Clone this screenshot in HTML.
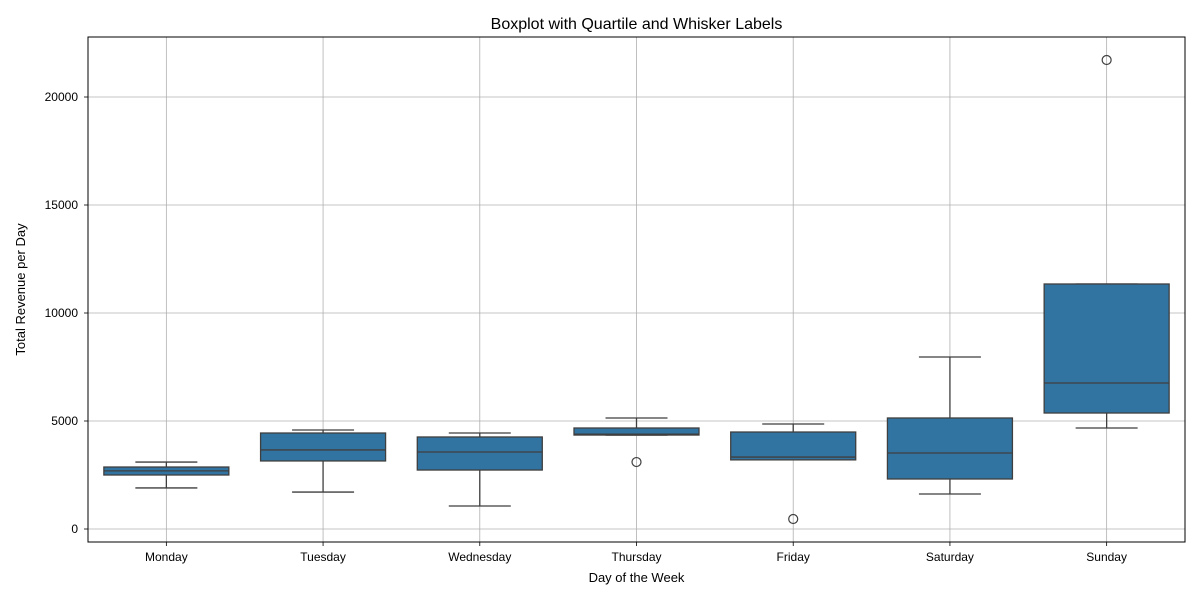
<!DOCTYPE html>
<html><head><meta charset="utf-8">
<style>
body{margin:0;background:#fff;font-family:"Liberation Sans","DejaVu Sans",sans-serif;}
svg text{font-family:"Liberation Sans","DejaVu Sans",sans-serif;}
</style></head>
<body>
<svg id="chart" width="1200" height="600" xmlns="http://www.w3.org/2000/svg"></svg>
<script>
const days = ["Monday","Tuesday","Wednesday","Thursday","Friday","Saturday","Sunday"];
const whiskerLow = [1900,1710,1065,4350,3240,1620,4676];
const q1 = [2500,3150,2730,4350,3200,2315,5370];
const median = [2690,3660,3565,4390,3330,3520,6760];
const q3 = [2870,4444,4260,4676,4490,5139,11343];
const whiskerHigh = [3100,4583,4444,5139,4861,7963,11343];
const outliers = [[],[],[],[3100],[463],[],[21713]];
const yTicks = [0,5000,10000,15000,20000];

const L=88,R=1185,T=37,B=542;
const y0px=529, pxPerUnit=432/20000;
const Y=v=>y0px-v*pxPerUnit;
const step=(R-L)/days.length;
const X=i=>L+step*(i+0.5);
const boxW=125, capW=62;
const svg=document.getElementById('chart');
const NS="http://www.w3.org/2000/svg";
function mk(tag,attrs,parent){const e=document.createElementNS(NS,tag);for(const k in attrs)e.setAttribute(k,attrs[k]);(parent||svg).appendChild(e);return e;}

// grid
yTicks.forEach(v=>{
  const g=mk('line',{x1:L,x2:R,y1:Y(v),y2:Y(v),stroke:'#b0b0b0','stroke-width':0.8});
  
  
  const t=mk('text',{x:L-10,y:Y(v)+4,'text-anchor':'end','font-size':12,fill:'#000'});
  t.textContent=v;
  
  
  mk('line',{x1:L-4,x2:L,y1:Y(v),y2:Y(v),stroke:'#000','stroke-width':0.8});
});
days.forEach((d,i)=>{
  const g=mk('line',{x1:X(i),x2:X(i),y1:T,y2:B,stroke:'#b0b0b0','stroke-width':0.8});
  
  
  mk('line',{x1:X(i),x2:X(i),y1:B,y2:B+4,stroke:'#000','stroke-width':0.8});
  const t=mk('text',{x:X(i),y:B+19,'text-anchor':'middle','font-size':12,fill:'#000'});
  t.textContent=d;
  
  
});

// boxes
days.forEach((d,i)=>{
  const c=X(i), s='#3f3f3f';
  const g=mk('g',{});
  
  
  mk('line',{x1:c,x2:c,y1:Y(whiskerLow[i]),y2:Y(q1[i]),stroke:s,'stroke-width':1.3},g);
  mk('line',{x1:c,x2:c,y1:Y(q3[i]),y2:Y(whiskerHigh[i]),stroke:s,'stroke-width':1.3},g);
  mk('line',{x1:c-capW/2,x2:c+capW/2,y1:Y(whiskerLow[i]),y2:Y(whiskerLow[i]),stroke:s,'stroke-width':1.3},g);
  mk('line',{x1:c-capW/2,x2:c+capW/2,y1:Y(whiskerHigh[i]),y2:Y(whiskerHigh[i]),stroke:s,'stroke-width':1.3},g);
  mk('rect',{x:c-boxW/2,y:Y(q3[i]),width:boxW,height:Math.max(1,Y(q1[i])-Y(q3[i])),fill:'#3274a1',stroke:s,'stroke-width':1.3},g);
  mk('line',{x1:c-boxW/2,x2:c+boxW/2,y1:Y(median[i]),y2:Y(median[i]),stroke:s,'stroke-width':1.3},g);
  outliers[i].forEach(v=>{
    const o=mk('circle',{cx:c,cy:Y(v),r:4.5,fill:'none',stroke:s,'stroke-width':1.2},g);
    
    
  });
});

// frame
const f=mk('rect',{x:L,y:T,width:R-L,height:B-T,fill:'none',stroke:'#000','stroke-width':1});



const title=mk('text',{x:(L+R)/2,y:29,'text-anchor':'middle','font-size':16,fill:'#000'});
title.textContent='Boxplot with Quartile and Whisker Labels';


const xl=mk('text',{x:(L+R)/2,y:582,'text-anchor':'middle','font-size':13,fill:'#000'});
xl.textContent='Day of the Week';


const yl=mk('text',{x:0,y:0,'text-anchor':'middle','font-size':13,fill:'#000',transform:'translate(25,'+((T+B)/2)+') rotate(-90)'});
yl.textContent='Total Revenue per Day';


</script>
</body></html>
